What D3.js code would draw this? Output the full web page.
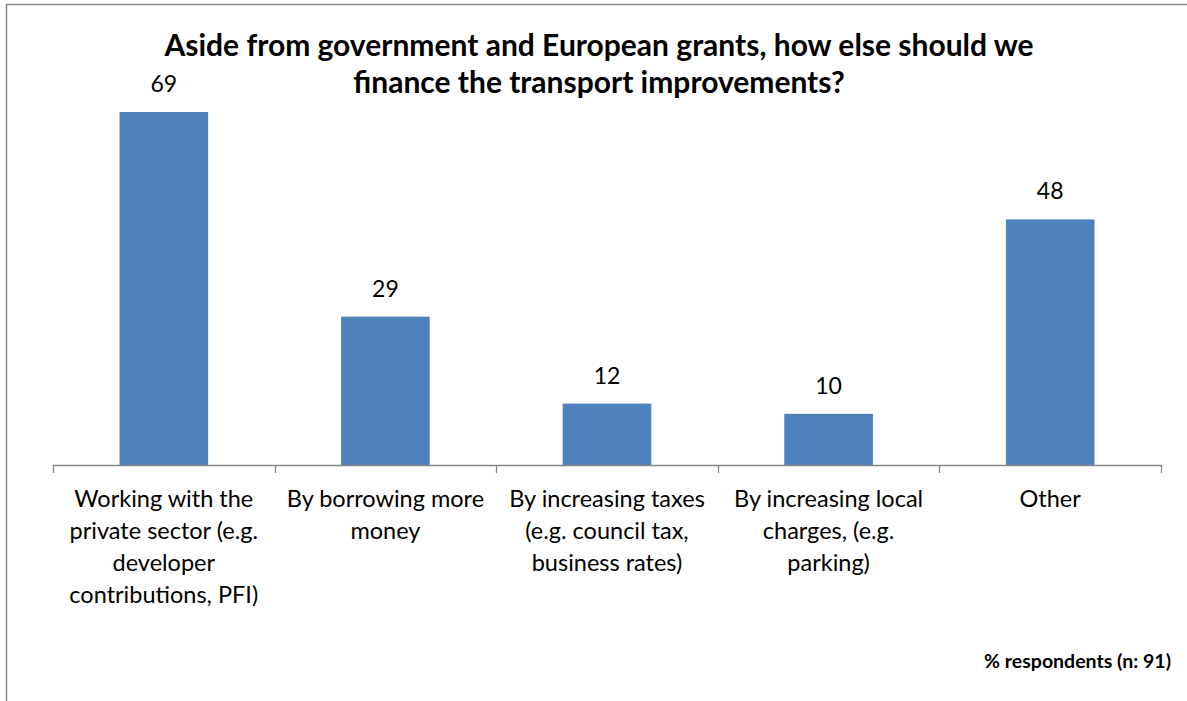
<!DOCTYPE html>
<html>
<head>
<meta charset="utf-8">
<script src="https://cdn.jsdelivr.net/npm/d3@7"></script>
<style>
  html, body { margin: 0; padding: 0; background: #fff; overflow: hidden; }
  svg { display: block; }
</style>
</head>
<body>
<svg id="chart" width="1187" height="701"></svg>
<script>
// Survey question and answers
const titleLines = [
  "Aside from government and European grants, how else should we",
  "finance the transport improvements?"
];
const categories = [
  "Working with the private sector (e.g. developer contributions, PFI)",
  "By borrowing more money",
  "By increasing taxes (e.g. council tax, business rates)",
  "By increasing local charges, (e.g. parking)",
  "Other"
];
// Category labels as they wrap under the axis
const categoryLines = [
  ["Working with the", "private sector (e.g.", "developer", "contributions, PFI)"],
  ["By borrowing more", "money"],
  ["By increasing taxes", "(e.g. council tax,", "business rates)"],
  ["By increasing local", "charges, (e.g.", "parking)"],
  ["Other"]
];
const values = [69, 29, 12, 10, 48];
const axisNote = "% respondents (n: 91)";

const W = 1187, H = 701;
const svg = d3.select("#chart");
const FONT = "Lato, 'Open Sans', sans-serif";

// Chart frame: left and top edges (the rest lies outside the view)
svg.append("path")
  .attr("d", `M6.5,${H} V4.5 H${W}`)
  .attr("fill", "none")
  .attr("stroke", "#868686").attr("stroke-width", 1.5);

const plot = { left: 53, right: 1161, bottom: 465 };

const x = d3.scaleBand()
  .domain(categories)
  .range([plot.left, plot.right])
  .paddingInner(0.6)
  .paddingOuter(0.3);

const y = d3.scaleLinear()
  .domain([0, 80])
  .range([plot.bottom, plot.bottom - 80 * 5.116]);

// Bars
svg.append("g").selectAll("rect")
  .data(categories)
  .join("rect")
  .attr("x", d => x(d))
  .attr("y", (d, i) => y(values[i]))
  .attr("width", x.bandwidth())
  .attr("height", (d, i) => y(0) - y(values[i]))
  .attr("fill", "#4F81BD");

// Value labels
svg.append("g").selectAll("text")
  .data(categories)
  .join("text")
  .attr("x", d => x(d) + x.bandwidth() / 2)
  .attr("y", (d, i) => y(values[i]) - 20)
  .attr("text-anchor", "middle")
  .attr("font-family", FONT)
  .attr("font-size", 23)
  .attr("fill", "#000")
  .text((d, i) => values[i]);

// Category axis: baseline with ticks at band boundaries
const step = x.step();
const bounds = categories.map(c => x(c) - step * x.paddingOuter()).concat([plot.right]);
const axis = svg.append("g");
axis.append("line")
  .attr("x1", plot.left).attr("x2", plot.right)
  .attr("y1", plot.bottom + 0.5).attr("y2", plot.bottom + 0.5)
  .attr("stroke", "#868686").attr("stroke-width", 1.3);
axis.selectAll("line.tick")
  .data(bounds)
  .join("line")
  .attr("class", "tick")
  .attr("x1", d => Math.round(d) + 0.5).attr("x2", d => Math.round(d) + 0.5)
  .attr("y1", plot.bottom).attr("y2", plot.bottom + 8)
  .attr("stroke", "#868686").attr("stroke-width", 1.3);

// Category labels
const catG = svg.append("g")
  .attr("font-family", FONT)
  .attr("font-size", 23.5)
  .attr("fill", "#000")
  .attr("text-anchor", "middle");
categories.forEach((c, i) => {
  const t = catG.append("text")
    .attr("x", x(c) + x.bandwidth() / 2)
    .attr("y", 507);
  categoryLines[i].forEach((line, j) => {
    t.append("tspan")
      .attr("x", x(c) + x.bandwidth() / 2)
      .attr("y", 507 + j * 32)
      .text(line);
  });
});

// Title
const title = svg.append("text")
  .attr("text-anchor", "middle")
  .attr("font-family", FONT)
  .attr("font-weight", "bold")
  .attr("font-size", 30)
  .attr("fill", "#000");
titleLines.forEach((line, j) => {
  title.append("tspan")
    .attr("x", 599)
    .attr("y", 56 + j * 37)
    .text(line);
});

// Axis note
svg.append("text")
  .attr("x", 1171).attr("y", 668)
  .attr("text-anchor", "end")
  .attr("font-family", FONT)
  .attr("font-weight", "bold")
  .attr("font-size", 19.5)
  .attr("fill", "#000")
  .text(axisNote);
</script>
</body>
</html>
